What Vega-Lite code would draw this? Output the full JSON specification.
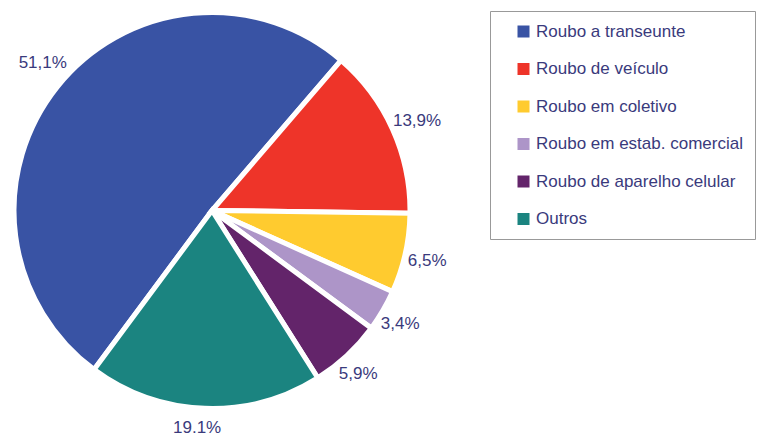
{
  "$schema": "https://vega.github.io/schema/vega-lite/v6.json",
  "width": 424,
  "height": 421,
  "padding": 0,
  "background": "white",
  "config": {"view": {"stroke": null}},
  "data": {
    "values": [
      {"tipo": "Roubo a transeunte", "pct": 51.1, "rotulo": "51,1%", "ordem": 6},
      {"tipo": "Roubo de veículo", "pct": 13.9, "rotulo": "13,9%", "ordem": 1},
      {"tipo": "Roubo em coletivo", "pct": 6.5, "rotulo": "6,5%", "ordem": 2},
      {"tipo": "Roubo em estab. comercial", "pct": 3.4, "rotulo": "3,4%", "ordem": 3},
      {"tipo": "Roubo de aparelho celular", "pct": 5.9, "rotulo": "5,9%", "ordem": 4},
      {"tipo": "Outros", "pct": 19.1, "rotulo": "19.1%", "ordem": 5}
    ]
  },
  "encoding": {
    "theta": {"field": "pct", "type": "quantitative", "stack": true, "scale": {"range": [0.71, 6.9932]}},
    "order": {"field": "ordem", "type": "quantitative", "sort": "ascending"}
  },
  "layer": [
    {
      "mark": {"type": "arc", "outerRadius": 198, "stroke": "white", "strokeWidth": 5},
      "encoding": {
        "color": {
          "field": "tipo",
          "type": "nominal",
          "scale": {
            "domain": ["Roubo a transeunte", "Roubo de veículo", "Roubo em coletivo", "Roubo em estab. comercial", "Roubo de aparelho celular", "Outros"],
            "range": ["#3953A4", "#EE3429", "#FFCB2F", "#AD95C8", "#63246A", "#1B8480"]
          },
          "legend": {
            "title": null,
            "orient": "none",
            "legendX": 490,
            "legendY": 11,
            "strokeColor": "#999999",
            "padding": 12,
            "symbolOffset": 13,
            "symbolType": "square",
            "symbolSize": 144,
            "symbolStrokeWidth": 0,
            "labelFont": "Liberation Sans",
            "labelFontSize": 17,
            "labelColor": "#3a3a7c",
            "labelOffset": 4,
            "labelLimit": 400,
            "rowPadding": 19.5
          }
        }
      }
    },
    {
      "mark": {"type": "text", "radius": 222, "thetaOffset": 0.03, "dy": -4, "font": "Liberation Sans", "fontSize": 17, "color": "#3a3a7c"},
      "encoding": {
        "text": {"field": "rotulo", "type": "nominal"}
      }
    }
  ]
}
